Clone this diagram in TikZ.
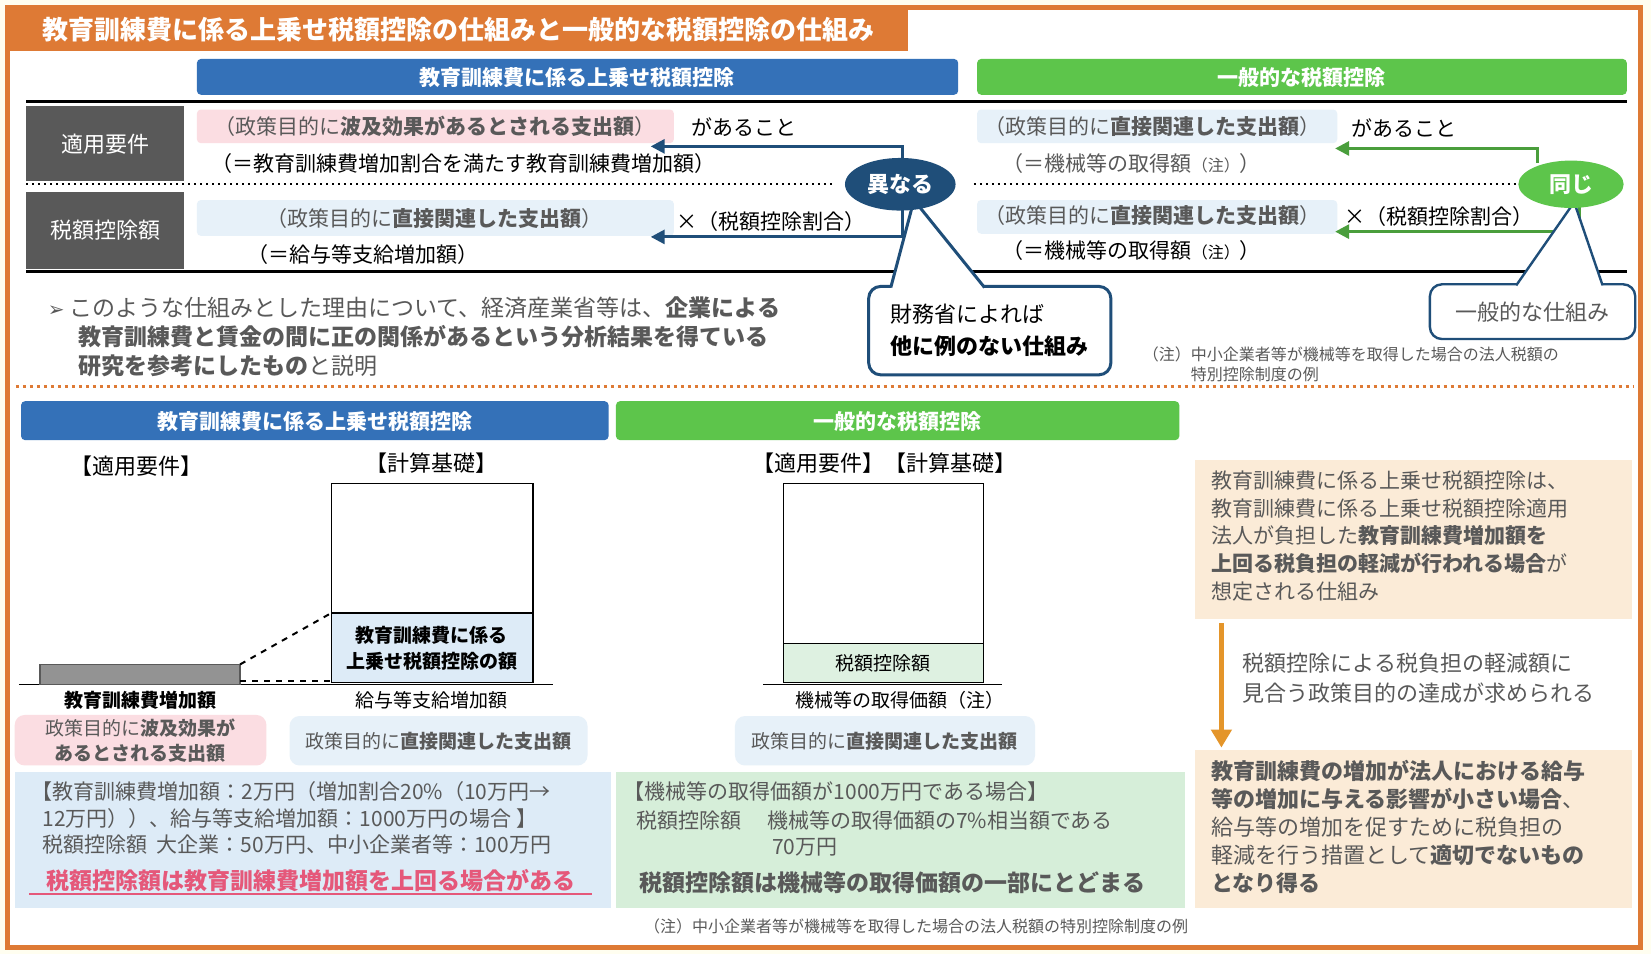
\documentclass[tikz,border=0pt]{standalone}
\usepackage{fontspec}
\setmainfont{Noto Sans CJK JP}
\newfontfamily\djv{DejaVu Sans}
\usetikzlibrary{shapes.geometric,arrows.meta}
\definecolor{org}{HTML}{DE7A35}
\definecolor{blu}{HTML}{3471B8}
\definecolor{grn}{HTML}{5DC54B}
\definecolor{navy}{HTML}{1F4E79}
\definecolor{txt}{HTML}{595959}
\definecolor{pnk}{HTML}{FBDDE2}
\definecolor{lbl}{HTML}{DDEBF7}
\definecolor{lgr}{HTML}{D6EED9}
\definecolor{bei}{HTML}{FBEBD7}
\definecolor{red2}{HTML}{E5587A}
\begin{document}
\begin{tikzpicture}[x=0.5265pt,y=-0.5265pt,
  every node/.style={inner sep=0pt,text=txt,font=\fontsize{10.5}{13}\selectfont},
  hdr/.style={rounded corners=2pt,text=white,font=\fontsize{10.5}{13}\selectfont\bfseries},
  gbox/.style={fill=txt},
  tl/.style={anchor=west},
  sm/.style={font=\fontsize{8}{10}\selectfont}]
\useasboundingbox (0,0) rectangle (1568,906);
\fill[yellow!6] (0,0) rectangle (1568,906);
\fill[white] (7,7) rectangle (1558,900);
\draw[org,line width=2.5pt] (7,7) rectangle (1558,900);
\fill[org] (7,7) rectangle (862,48);
\node[text=white,font=\fontsize{13}{15}\selectfont\bfseries] (title) at (435,28) {教育訓練費に係る上乗せ税額控除の仕組みと一般的な税額控除の仕組み};
% top headers
\fill[blu,rounded corners=2pt] (187,56) rectangle (910,90);
\node[hdr] (h1) at (548,74) {教育訓練費に係る上乗せ税額控除};
\fill[grn,rounded corners=2pt] (928,56) rectangle (1545,90);
\node[hdr] (h2) at (1236,74) {一般的な税額控除};
\draw[line width=1.5pt] (25,96) -- (1545,96);
\draw[line width=1.5pt] (25,258) -- (1545,258);
\draw[dotted,line width=1pt] (25,175) -- (790,175);
\draw[dotted,line width=1pt] (925,175) -- (1440,175);
\fill[txt] (25,101) rectangle (175,172);
\node[text=white,font=\fontsize{11}{13}\selectfont] (r1) at (100,137) {適用要件};
\fill[txt] (25,182) rectangle (175,255);
\node[text=white,font=\fontsize{11}{13}\selectfont] (r2) at (100,219) {税額控除額};
% left top
\fill[pnk,rounded corners=2pt] (187,104) rectangle (640,136);
\node (p1) at (413,120) {（政策目的に\textbf{波及効果があるとされる支出額}）};
\node[text=black] (a1) at (707,121) {があること};
\node[text=black] (e1) at (440,155) {（＝教育訓練費増加割合を満たす教育訓練費増加額）};
\fill[lbl!70,rounded corners=2pt] (187,190) rectangle (640,224);
\node (p2) at (413,208) {（政策目的に\textbf{直接関連した支出額}）};
\node[text=black] (x1) at (732,210) {×（税額控除割合）};
\node[text=black] (e2) at (345,242) {（＝給与等支給増加額）};
\draw[navy,line width=1.5pt,-{Triangle[length=7pt,width=7pt]}] (857,175) -- (857,139) -- (618,139);
\draw[navy,line width=1.5pt,-{Triangle[length=7pt,width=7pt]}] (857,175) -- (857,225) -- (618,225);
% callout left
\draw[navy,line width=1.5pt,fill=white,rounded corners=6pt] (825,272) rectangle (1055,356);
\node[text=black,align=left,font=\fontsize{11}{16}\selectfont] (c1) at (940,314) {財務省によれば\\\textbf{他に例のない仕組み}};
\fill[white] (846,275) -- (868,190) -- (935,275) -- cycle;
\draw[navy,line width=1.5pt] (846,273) -- (868,190) -- (935,273);
\node[ellipse,fill=navy,minimum width=105pt*0.5265,minimum height=50pt*0.5265,text=white,font=\fontsize{11}{13}\selectfont\bfseries] (d1) at (855,175) {異なる};
% right top
\fill[lbl!70,rounded corners=2pt] (928,104) rectangle (1270,136);
\node (p3) at (1095,120) {（政策目的に\textbf{直接関連した支出額}）};
\node[text=black] (a2) at (1333,122) {があること};
\node (e3) at (1075,155) {（＝機械等の取得額{\fontsize{8}{10}\selectfont（注）}）};
\fill[lbl!70,rounded corners=2pt] (928,190) rectangle (1270,222);
\node (p4) at (1095,205) {（政策目的に\textbf{直接関連した支出額}）};
\node[text=black] (x2) at (1367,206) {×（税額控除割合）};
\node[text=black] (e4) at (1075,238) {（＝機械等の取得額{\fontsize{8}{10}\selectfont（注）}）};
\draw[grn!80!black,line width=1.5pt,-{Triangle[length=7pt,width=7pt]}] (1460,155) -- (1460,141) -- (1268,141);
\draw[grn!80!black,line width=1.5pt,-{Triangle[length=7pt,width=7pt]}] (1500,195) -- (1500,220) -- (1268,220);
\draw[navy,line width=1.2pt,fill=white,rounded corners=6pt] (1358,270) rectangle (1553,322);
\node[font=\fontsize{11}{13}\selectfont] (c2) at (1455,296) {一般的な仕組み};
\fill[white] (1440,272) -- (1495,192) -- (1522,272) -- cycle;
\draw[navy,line width=1.2pt] (1440,271) -- (1495,192) -- (1522,271);
\node[ellipse,fill=grn,minimum width=100pt*0.5265,minimum height=45pt*0.5265,text=white,font=\fontsize{11}{13}\selectfont\bfseries] (d2) at (1492,175) {同じ};
% bullet text
\node[tl,font=\fontsize{11.5}{14}\selectfont] (b1) at (45,292) {{\djv\fontsize{10}{12}\selectfont ➢} このような仕組みとした理由について、経済産業省等は、\textbf{企業による}};
\node[tl,font=\fontsize{11.5}{14}\selectfont] (b2) at (74,320) {\textbf{教育訓練費と賃金の間に正の関係があるという分析結果を得ている}};
\node[tl,font=\fontsize{11.5}{14}\selectfont] (b3) at (74,347) {\textbf{研究を参考にしたもの}と説明};
\node[tl,sm,align=left] (n1) at (1085,346) {（注）中小企業者等が機械等を取得した場合の法人税額の\\\hspace*{3em}特別控除制度の例};
\draw[org,dotted,line width=1.5pt] (15,367) -- (1552,367);
% bottom headers
\fill[blu,rounded corners=2pt] (20,381) rectangle (578,418);
\node[hdr] (h3) at (299,400) {教育訓練費に係る上乗せ税額控除};
\fill[grn,rounded corners=2pt] (585,381) rectangle (1120,418);
\node[hdr] (h4) at (852,400) {一般的な税額控除};
\node[text=black,font=\fontsize{11}{13}\selectfont] (k1) at (130,443) {【適用要件】};
\node[text=black,font=\fontsize{11}{13}\selectfont] (k2) at (410,440) {【計算基礎】};
\draw[black,line width=0.8pt] (315,459) rectangle (506,648);
\draw[black,fill=lbl,line width=0.8pt] (315,582) rectangle (506,648);
\node[text=black,align=center,font=\fontsize{9.5}{13}\selectfont\bfseries] (t1) at (410,616) {教育訓練費に係る\\上乗せ税額控除の額};
\draw[line width=0.8pt] (18,650) -- (525,650);
\draw[fill=gray!85,draw=txt,line width=0.8pt] (38,631) rectangle (228,650);
\draw[dashed,line width=1pt] (228,631) -- (315,582);
\draw[dashed,line width=1pt] (228,647) -- (315,647);
\node[text=black,font=\fontsize{9.5}{12}\selectfont\bfseries] (l1) at (133,665) {教育訓練費増加額};
\node[text=black,font=\fontsize{9.5}{12}\selectfont] (l2) at (410,665) {給与等支給増加額};
\fill[pnk,rounded corners=5pt] (14,679) rectangle (253,727);
\node[align=center,font=\fontsize{9.5}{12.5}\selectfont] (q1) at (133,703) {政策目的に\textbf{波及効果が}\\\textbf{あるとされる支出額}};
\fill[lbl!70,rounded corners=5pt] (275,680) rectangle (558,727);
\node[font=\fontsize{9.5}{12}\selectfont] (q2) at (416,704) {政策目的に\textbf{直接関連した支出額}};
% middle bottom
\node[text=black,font=\fontsize{11}{13}\selectfont] (k3) at (840,440) {【適用要件】【計算基礎】};
\draw[line width=0.8pt] (744,459) rectangle (934,648);
\draw[fill=lgr!80,line width=0.8pt] (744,611) rectangle (934,648);
\node[text=black,font=\fontsize{9.5}{12}\selectfont] (t2) at (839,630) {税額控除額};
\draw[line width=0.8pt] (725,650) -- (952,650);
\node[text=black,font=\fontsize{9.5}{12}\selectfont] (l3) at (855,665) {機械等の取得価額（注）};
\fill[lbl!70,rounded corners=5pt] (698,680) rectangle (983,727);
\node[font=\fontsize{9.5}{12}\selectfont] (q3) at (840,704) {政策目的に\textbf{直接関連した支出額}};
% bottom boxes
\fill[lbl] (14,733) rectangle (580,862);
\node[tl] (m1) at (30,752) {【教育訓練費増加額：2万円（増加割合20\%（10万円→};
\node[tl] (m2) at (40,777) {12万円））、給与等支給増加額：1000万円の場合 】};
\node[tl] (m3) at (40,802) {税額控除額\ \ 大企業：50万円、中小企業者等：100万円};
\node[text=red2,font=\fontsize{11.5}{14}\selectfont\bfseries] (m4) at (295,836) {税額控除額は教育訓練費増加額を上回る場合がある};
\draw[red2,line width=1pt] (28,849) -- (562,849);
\fill[lgr] (585,733) rectangle (1125,862);
\node[tl] (g1) at (592,752) {【機械等の取得価額が1000万円である場合】};
\node[tl] (g2) at (604,779) {税額控除額\quad\ 機械等の取得価額の7\%相当額である};
\node[tl] (g3) at (733,805) {70万円};
\node[font=\fontsize{11.5}{14}\selectfont\bfseries] (g4) at (848,838) {税額控除額は機械等の取得価額の一部にとどまる};
% right column
\fill[bei] (1135,437) rectangle (1550,588);
\node[tl,align=left,font=\fontsize{10.5}{13.8}\selectfont] (r3) at (1150,509) {教育訓練費に係る上乗せ税額控除は、\\教育訓練費に係る上乗せ税額控除適用\\法人が負担した\textbf{教育訓練費増加額を}\\\textbf{上回る税負担の軽減が行われる場合}が\\想定される仕組み};
\draw[org!80!yellow,line width=2.5pt,-{Triangle[length=9pt,width=10pt]}] (1160,592) -- (1160,710);
\node[tl,align=left,font=\fontsize{11}{15}\selectfont] (r4) at (1180,644) {税額控除による税負担の軽減額に\\見合う政策目的の達成が求められる};
\fill[bei] (1135,712) rectangle (1550,862);
\node[tl,align=left,font=\fontsize{11}{14}\selectfont] (r5) at (1150,785) {\textbf{教育訓練費の増加が法人における給与}\\\textbf{等の増加に与える影響が小さい場合}、\\給与等の増加を促すために税負担の\\軽減を行う措置として\textbf{適切でないもの}\\\textbf{となり得る}};
\node[sm] (n2) at (870,880) {（注）中小企業者等が機械等を取得した場合の法人税額の特別控除制度の例};
\end{tikzpicture}
\end{document}
